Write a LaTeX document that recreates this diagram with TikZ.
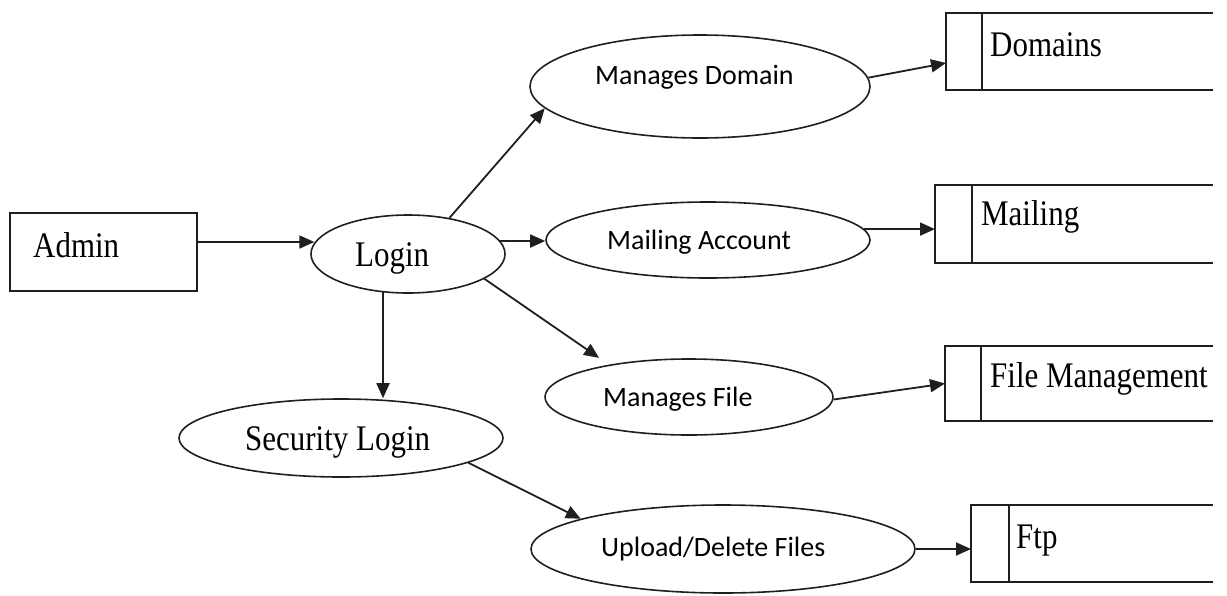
\documentclass[tikz,border=0pt]{standalone}
\usepackage{fontspec}
\usepackage{graphicx}
\setmainfont{Liberation Serif}
\newfontfamily\calibrifont{Carlito}
\usetikzlibrary{shapes.geometric,arrows.meta}

% narrow serif labels
\newcommand{\narrowtext}[1]{\scalebox{0.86}[1]{#1}}

\begin{document}
\begin{tikzpicture}[x=1pt,y=-1pt,
  outline/.style={draw=black!88, line width=1.7pt},
  entity/.style={outline, rectangle, inner sep=0pt},
  store/.style={rectangle, inner sep=0pt, outer sep=0pt},
  process/.style={outline, ellipse, inner sep=0pt, line width=1.6pt},
  serif/.style={anchor=base west, inner sep=0pt, text=black,
                font=\fontsize{36}{40}\selectfont},
  sans/.style={anchor=base west, inner sep=0pt, text=black,
               font=\calibrifont\fontsize{28}{32}\selectfont},
  flow/.style={draw=black!88, line width=1.8pt,
               -{Triangle[length=15pt,width=13pt]}}
]
\useasboundingbox (0,0) rectangle (1227,595);

% external entity
\node[entity, minimum width=187pt, minimum height=78pt] (admin) at (103.5,252) {};
\node[serif] (admin-t) at (33,257) {\narrowtext{Admin}};

% processes
\node[process, minimum width=194pt, minimum height=78pt]  (login) at (408,254) {};
\node[serif] (login-t) at (355,266) {\narrowtext{Login}};

\node[process, minimum width=340pt, minimum height=103pt] (md) at (700,86.5) {};
\node[sans] (md-t) at (595,84) {Manages Domain};

\node[process, minimum width=324pt, minimum height=76pt]  (ma) at (708,240) {};
\node[sans] (ma-t) at (607,249) {Mailing Account};

\node[process, minimum width=288pt, minimum height=76pt]  (mf) at (689,397) {};
\node[sans] (mf-t) at (603,406) {Manages File};

\node[process, minimum width=324pt, minimum height=78pt]  (sl) at (341,438) {};
\node[serif] (sl-t) at (245,450) {\narrowtext{Security Login}};

\node[process, minimum width=384pt, minimum height=88pt]  (ud) at (723,549) {};
\node[sans] (ud-t) at (601,556) {Upload/Delete Files};

% data stores (open on the right)
\node[store, minimum width=267pt, minimum height=77pt] (dom)  at (1079.5,51.5) {};
\node[store, minimum width=278pt, minimum height=78pt] (mail) at (1074,224) {};
\node[store, minimum width=268pt, minimum height=75pt] (fm)   at (1079,383.5) {};
\node[store, minimum width=242pt, minimum height=77pt] (ftp)  at (1092,543.5) {};

\foreach \s/\w in {dom/36, mail/37, fm/36, ftp/38} {
  \draw[outline] (\s.north east) -- (\s.north west) -- (\s.south west) -- (\s.south east);
  \draw[outline] ([xshift=\w pt]\s.north west) -- ([xshift=\w pt]\s.south west);
}
\node[serif] (dom-t)  at (990,56)   {\narrowtext{Domains}};
\node[serif] (mail-t) at (981,225)  {\narrowtext{Mailing}};
\node[serif] (fm-t)   at (990,387)  {\narrowtext{File Management}};
\node[serif] (ftp-t)  at (1016,548) {\narrowtext{Ftp}};

% data flows
\draw[flow] ([yshift=10pt]admin.east) -- ([yshift=10pt]admin.east -| login.173);
\draw[flow] (login.41.5) -- (md.188);
\draw[flow] (login.8) -- (login.8 -| ma.west);
\draw[flow, shorten >=12pt] (login.-18) -- (mf.158);
\draw[flow] (login.237.6) -- (login.237.6 |- sl.north);
\draw[flow] (sl.-11) -- (ud.168);

\draw[flow] (md.3.3) -- ([yshift=-11.5pt]dom.west);
\draw[flow] (ma.4) -- (ma.4 -| mail.west);
\draw[flow] (mf.-1) -- (fm.west);
\draw[flow] (ud.east) -- (ud.east -| ftp.west);
\end{tikzpicture}
\end{document}
